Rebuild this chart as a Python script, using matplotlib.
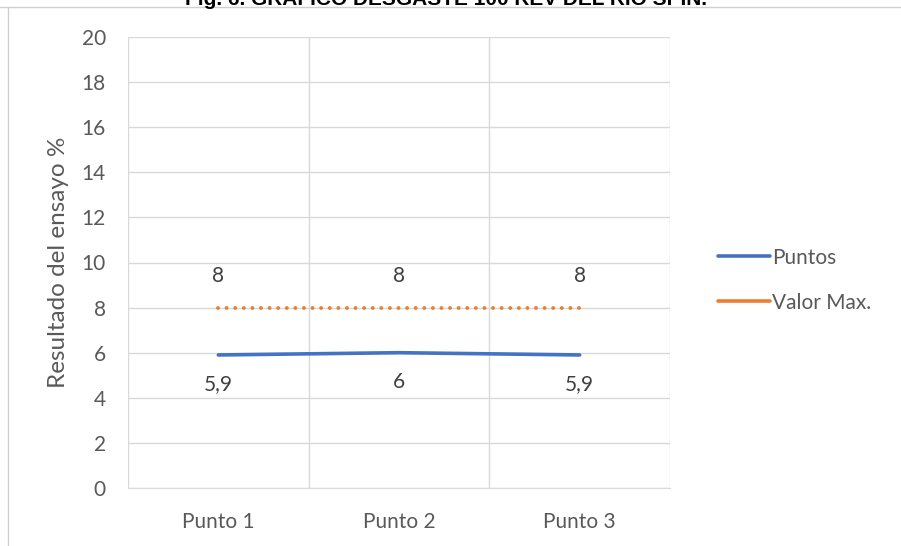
import matplotlib.pyplot as plt
from matplotlib.lines import Line2D

categorias = ['Punto 1', 'Punto 2', 'Punto 3']
puntos = [5.9, 6.0, 5.9]
valor_max = [8, 8, 8]
etiquetas_puntos = ['5,9', '6', '5,9']
etiquetas_max = ['8', '8', '8']

azul = '#4472C4'
naranja = '#ED7D31'
gris_texto = '#595959'
gris_linea = '#D9D9D9'

plt.rcParams['font.family'] = ['Lato', 'DejaVu Sans']

fig = plt.figure(figsize=(9.01, 5.46), dpi=100)
W, H = 901, 546
ax = fig.add_axes([128 / W, (H - 488) / H, (670 - 128) / W, (488 - 37) / H])

x = list(range(1, len(categorias) + 1))
ax.plot(x, puntos, color=azul, lw=2.6, solid_capstyle='round')
ax.plot(x, valor_max, color=naranja, lw=2.8, linestyle=(0, (0.01, 2.2)),
        dash_capstyle='round')

for xi, v, t in zip(x, puntos, etiquetas_puntos):
    ax.annotate(t, (xi, v), xytext=(0, -21), textcoords='offset points',
                ha='center', va='center', fontsize=15, color='#404040')
for xi, v, t in zip(x, valor_max, etiquetas_max):
    ax.annotate(t, (xi, v), xytext=(0, 23), textcoords='offset points',
                ha='center', va='center', fontsize=15, color='#404040')

ax.set_xlim(0.5, len(categorias) + 0.5)
ax.set_ylim(0, 20)
ax.set_yticks(range(0, 21, 2))
ax.set_xticks(x)
ax.set_xticklabels(categorias)
ax.set_xticks([i + 0.5 for i in range(len(categorias) + 1)], minor=True)
ax.grid(axis='y', color=gris_linea, lw=1)
ax.grid(axis='x', which='minor', color=gris_linea, lw=1)
ax.set_axisbelow(True)
ax.tick_params(axis='both', which='both', length=0, colors=gris_texto, labelsize=15)
ax.tick_params(axis='y', pad=16)
ax.tick_params(axis='x', pad=17)
for s in ['top', 'right', 'left']:
    ax.spines[s].set_visible(False)
ax.spines['bottom'].set_color(gris_linea)

ax.set_ylabel('Resultado del ensayo %', fontsize=17.5, color=gris_texto, labelpad=9)

handles = [Line2D([], [], color=azul, lw=2.6, solid_capstyle='round'),
           Line2D([], [], color=naranja, lw=2.6, solid_capstyle='round')]
fig.legend(handles, ['Puntos', 'Valor Max.'], loc='upper left',
           bbox_to_anchor=(699 / W, 1 - 229 / H), frameon=False, fontsize=15,
           labelcolor=gris_texto, handlelength=2.5, handletextpad=0.1,
           labelspacing=1.2)

# titulo recortado por el borde superior
fig.text(446 / W, 1 - 5 / H, 'Fig. 6. GRAFICO DESGASTE 100 REV DEL RIO SPIN.',
         ha='center', va='baseline', fontsize=15, fontweight='bold',
         family='Liberation Sans', color='black')

fig.add_artist(Line2D([0, 1], [1 - 7 / H, 1 - 7 / H], transform=fig.transFigure,
                      color='#D0D0D0', lw=1))
fig.add_artist(Line2D([8 / W, 8 / W], [0, 1 - 7 / H], transform=fig.transFigure,
                      color='#D0D0D0', lw=1))

fig.savefig('out.png', dpi=100)
